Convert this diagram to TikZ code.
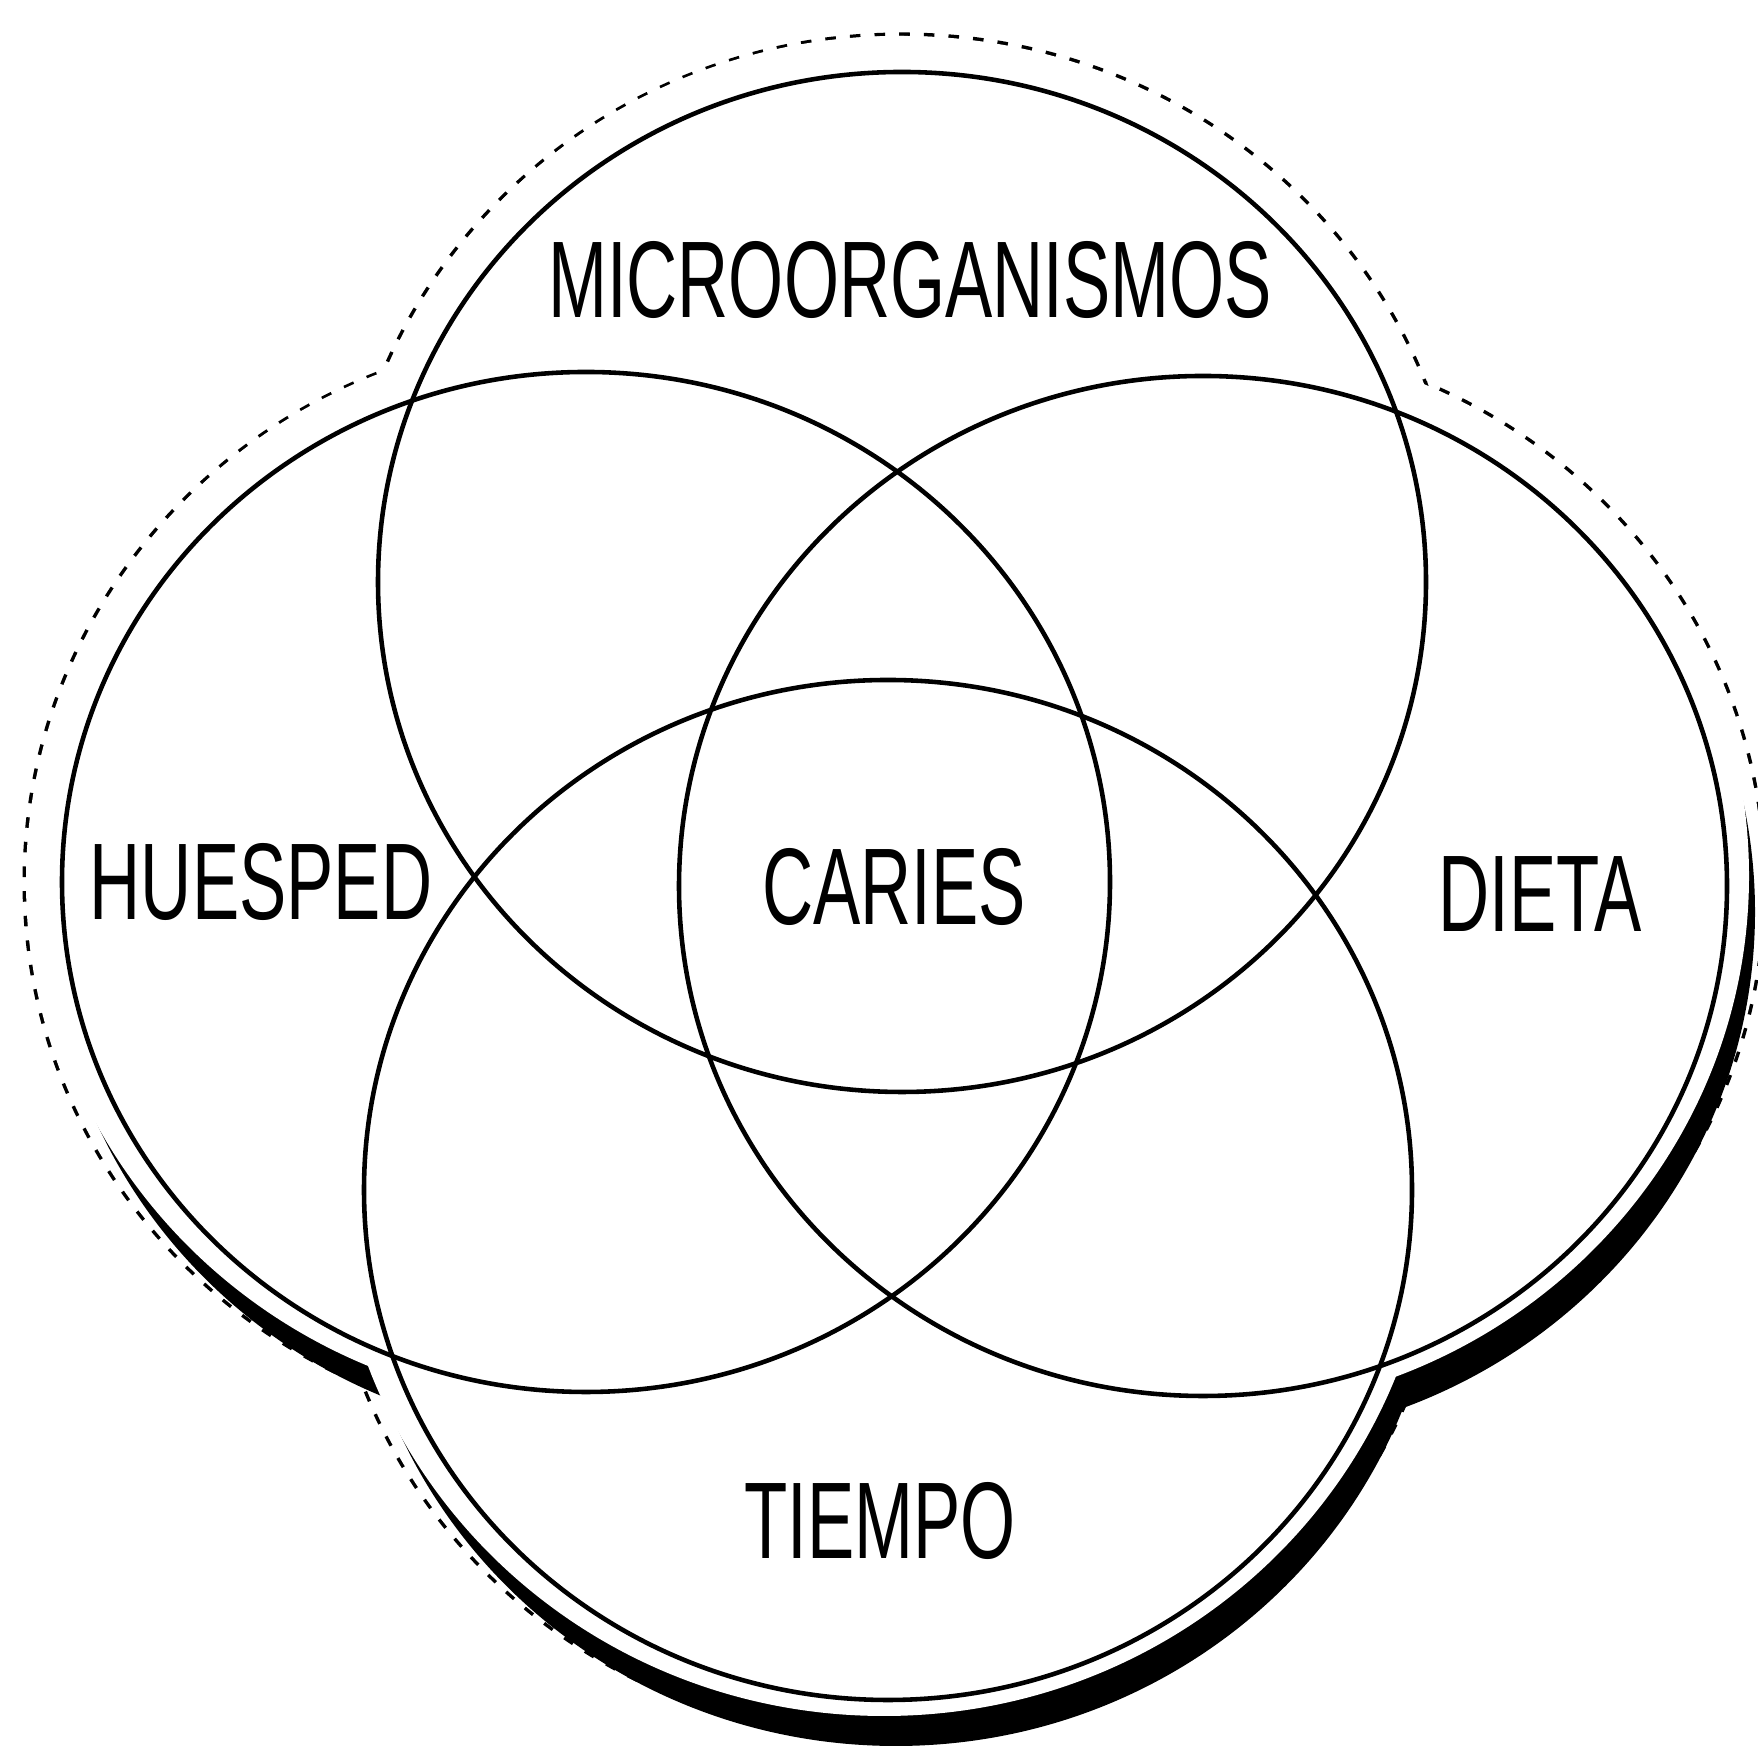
\documentclass[tikz,border=0pt]{standalone}
\usepackage{fontspec}
\newfontfamily\tagfont[FakeStretch=0.65]{Liberation Sans}
\usetikzlibrary{positioning}
\newcommand\radx{5.24}
\newcommand\rady{5.10}
\tikzset{ring/.style = {line width=1.3pt},
         halo/.style = {line width=2pt, dash pattern=on 3pt off 4pt},
         tag/.style = {font=\tagfont\fontsize{31}{31}\selectfont, inner sep=0pt}}

\begin{document}
\begin{tikzpicture}
    \clip (0, 0) rectangle (17.58, 17.53);
    \coordinate (mic) at (9.02, 11.71);
    \coordinate (hue) at (5.86, 8.71);
    \coordinate (die) at (12.03, 8.67);
    \coordinate (tie) at (8.88, 5.63);
    % faint outline round the four sets
    \foreach \c in {mic, hue, die, tie}
      \draw [halo] (\c) ellipse [x radius=\radx+0.36, y radius=\rady+0.36];
    \fill [white] \foreach \c in {mic, hue, die, tie}
      {(\c) ellipse [x radius=\radx+0.36, y radius=\rady+0.36]};
    % shadow, heavy towards the lower right
    \fill [black] \foreach \c in {mic, hue, die, tie}
      {([shift={(0.08, -0.26)}]\c) ellipse [x radius=\radx+0.20, y radius=\rady+0.20]};
    \fill [white] \foreach \c in {mic, hue, die, tie}
      {([shift={(-0.04, 0.10)}]\c) ellipse [x radius=\radx+0.26, y radius=\rady+0.26]};
    \foreach \c in {mic, hue, die, tie}
      \draw [ring] (\c) ellipse [x radius=\radx, y radius=\rady];
    \node [tag] (microorganismos) at (9.10, 14.73) {MICROORGANISMOS};
    \node [tag] (huesped) at (2.61, 8.71) {HUESPED};
    \node [tag] (caries) at (8.94, 8.66) {CARIES};
    \node [tag] (dieta) at (15.40, 8.59) {DIETA};
    \node [tag] (tiempo) at (8.80, 2.32) {TIEMPO};
  \end{tikzpicture}
\end{document}
